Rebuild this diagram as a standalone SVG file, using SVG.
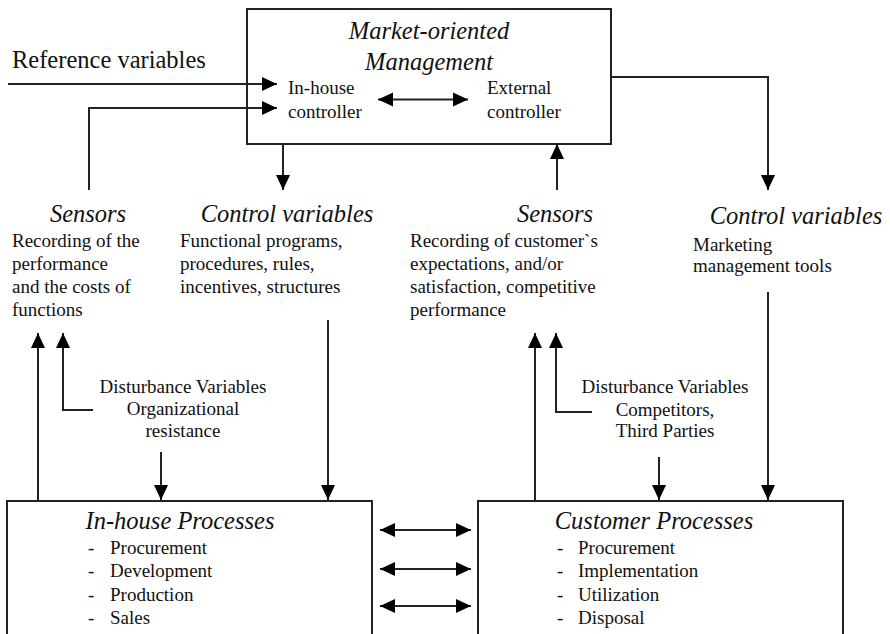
<svg xmlns="http://www.w3.org/2000/svg" width="890" height="634" viewBox="0 0 890 634">
<defs>
<marker id="ah" markerWidth="16" markerHeight="16" viewBox="0 0 16 16" refX="15" refY="8" orient="auto-start-reverse" markerUnits="userSpaceOnUse">
<path d="M0,1 L15,8 L0,15 Z" fill="#000"/>
</marker>
</defs>
<style>
.box{fill:#fff;stroke:#222;stroke-width:2}
#connectors path{fill:none;stroke:#222;stroke-width:2}
text{font-family:'Liberation Serif',serif;font-size:19px;fill:#111}
.h{font-style:italic;font-size:24.5px;text-anchor:middle}
.c{text-anchor:middle}
</style>
<rect width="890" height="634" fill="#fff"/>
<g id="reference-variables">
<text x="12" y="68" style="font-size:24.5px">Reference variables</text>
</g>
<g id="market-oriented-management">
<rect class="box" x="247" y="9" width="364" height="135"/>
<text class="h" x="429" y="39">Market-oriented</text>
<text class="h" x="429" y="70">Management</text>
<text x="288" y="94">In-house</text>
<text x="288" y="118">controller</text>
<text x="487" y="94">External</text>
<text x="487" y="118">controller</text>
</g>
<g id="sensors-left">
<text class="h" x="88" y="222">Sensors</text>
<text x="12" y="247">Recording of the</text>
<text x="12" y="270">performance</text>
<text x="12" y="293">and the costs of</text>
<text x="12" y="316">functions</text>
</g>
<g id="control-variables-left">
<text class="h" x="287" y="222">Control variables</text>
<text x="180" y="247">Functional programs,</text>
<text x="180" y="270">procedures, rules,</text>
<text x="180" y="293">incentives,  structures</text>
</g>
<g id="sensors-right">
<text class="h" x="555" y="222">Sensors</text>
<text x="410" y="247">Recording of customer`s</text>
<text x="410" y="270">expectations, and/or</text>
<text x="410" y="293">satisfaction, competitive</text>
<text x="410" y="316">performance</text>
</g>
<g id="control-variables-right">
<text class="h" x="796" y="224">Control variables</text>
<text x="693" y="251">Marketing</text>
<text x="693" y="272">management tools</text>
</g>
<g id="disturbance-left">
<text class="c" x="183" y="393">Disturbance Variables</text>
<text class="c" x="183" y="415">Organizational</text>
<text class="c" x="183" y="437">resistance</text>
</g>
<g id="disturbance-right">
<text class="c" x="665" y="393">Disturbance Variables</text>
<text class="c" x="665" y="416">Competitors,</text>
<text class="c" x="665" y="437">Third Parties</text>
</g>
<g id="in-house-processes">
<rect class="box" x="7" y="501" width="365" height="145"/>
<text class="h" x="180" y="529">In-house Processes</text>
<text x="88" y="554">-</text><text x="110" y="554">Procurement</text>
<text x="88" y="577">-</text><text x="110" y="577">Development</text>
<text x="88" y="601">-</text><text x="110" y="601">Production</text>
<text x="88" y="624">-</text><text x="110" y="624">Sales</text>
</g>
<g id="customer-processes">
<rect class="box" x="478" y="501" width="365" height="145"/>
<text class="h" x="654" y="529">Customer Processes</text>
<text x="557" y="554">-</text><text x="578" y="554">Procurement</text>
<text x="557" y="577">-</text><text x="578" y="577">Implementation</text>
<text x="557" y="601">-</text><text x="578" y="601">Utilization</text>
<text x="557" y="624">-</text><text x="578" y="624">Disposal</text>
</g>
<g id="connectors">
<path d="M8,84 H277" marker-end="url(#ah)"/>
<path d="M89,190 V108 H277" marker-end="url(#ah)"/>
<path d="M378,99.5 H468" marker-start="url(#ah)" marker-end="url(#ah)"/>
<path d="M611,77 H768 V190" marker-end="url(#ah)"/>
<path d="M283,144 V190" marker-end="url(#ah)"/>
<path d="M557,190 V144" marker-end="url(#ah)"/>
<path d="M38,501 V333" marker-end="url(#ah)"/>
<path d="M93,410 H63 V333" marker-end="url(#ah)"/>
<path d="M161,452 V500" marker-end="url(#ah)"/>
<path d="M328,320 V500" marker-end="url(#ah)"/>
<path d="M535,501 V333" marker-end="url(#ah)"/>
<path d="M592,412 H556 V333" marker-end="url(#ah)"/>
<path d="M659,457 V500" marker-end="url(#ah)"/>
<path d="M768,292 V500" marker-end="url(#ah)"/>
<path d="M380,530 H471" marker-start="url(#ah)" marker-end="url(#ah)"/>
<path d="M380,569 H471" marker-start="url(#ah)" marker-end="url(#ah)"/>
<path d="M380,606 H471" marker-start="url(#ah)" marker-end="url(#ah)"/>
</g>
</svg>
